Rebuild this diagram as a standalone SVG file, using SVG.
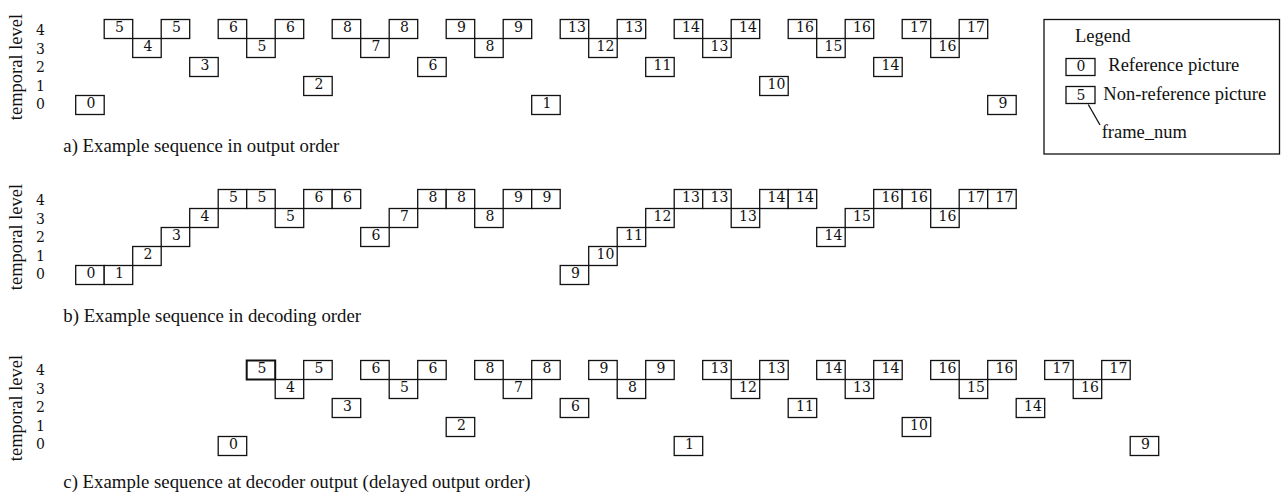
<svg xmlns="http://www.w3.org/2000/svg" width="1287" height="496" viewBox="0 0 1287 496">
<style>
.b{fill:#fff;stroke:#111;stroke-width:1.3}
.n{font-family:"DejaVu Serif","Liberation Serif",serif;font-size:14px;fill:#111;text-anchor:middle}
.t{font-family:"Liberation Serif","DejaVu Serif",serif;font-size:18.5px;fill:#111}
.cap{font-family:"Liberation Serif","DejaVu Serif",serif;font-size:18.8px;fill:#111}
.ax{font-family:"DejaVu Serif","Liberation Serif",serif;font-size:14px;fill:#111;text-anchor:middle}
.lab{font-family:"Liberation Serif","DejaVu Serif",serif;font-size:18.5px;fill:#111;text-anchor:middle}
</style>
<rect width="1287" height="496" fill="#fff"/>

<!-- axis labels -->
<g id="axis-a">
<text class="lab" transform="translate(22,67) rotate(-90)">temporal level</text>
<text class="ax" x="40.5" y="35">4</text><text class="ax" x="40.5" y="53.6">3</text><text class="ax" x="40.5" y="72.2">2</text><text class="ax" x="40.5" y="90.8">1</text><text class="ax" x="40.5" y="109.4">0</text>
</g>
<g id="axis-b">
<text class="lab" transform="translate(22,237) rotate(-90)">temporal level</text>
<text class="ax" x="40.5" y="205">4</text><text class="ax" x="40.5" y="223.6">3</text><text class="ax" x="40.5" y="242.2">2</text><text class="ax" x="40.5" y="260.8">1</text><text class="ax" x="40.5" y="279.4">0</text>
</g>
<g id="axis-c">
<text class="lab" transform="translate(22,408) rotate(-90)">temporal level</text>
<text class="ax" x="40.5" y="375">4</text><text class="ax" x="40.5" y="393.6">3</text><text class="ax" x="40.5" y="412.2">2</text><text class="ax" x="40.5" y="430.8">1</text><text class="ax" x="40.5" y="449.4">0</text>
</g>

<!-- section a: output order -->
<g id="sec-a">
<g id="a0"><rect class="b" x="75.7" y="95.5" width="28.5" height="19"/><text class="n" x="90.95" y="108">0</text></g>
<g id="a1"><rect class="b" x="104.2" y="19.5" width="28.5" height="19"/><text class="n" x="119.45" y="32">5</text></g>
<g id="a2"><rect class="b" x="132.7" y="38.5" width="28.5" height="19"/><text class="n" x="147.95" y="51">4</text></g>
<g id="a3"><rect class="b" x="161.2" y="19.5" width="28.5" height="19"/><text class="n" x="176.45" y="32">5</text></g>
<g id="a4"><rect class="b" x="189.7" y="57.5" width="28.5" height="19"/><text class="n" x="204.95" y="70">3</text></g>
<g id="a5"><rect class="b" x="218.2" y="19.5" width="28.5" height="19"/><text class="n" x="233.45" y="32">6</text></g>
<g id="a6"><rect class="b" x="246.7" y="38.5" width="28.5" height="19"/><text class="n" x="261.95" y="51">5</text></g>
<g id="a7"><rect class="b" x="275.2" y="19.5" width="28.5" height="19"/><text class="n" x="290.45" y="32">6</text></g>
<g id="a8"><rect class="b" x="303.7" y="76.5" width="28.5" height="19"/><text class="n" x="318.95" y="89">2</text></g>
<g id="a9"><rect class="b" x="332.2" y="19.5" width="28.5" height="19"/><text class="n" x="347.45" y="32">8</text></g>
<g id="a10"><rect class="b" x="360.7" y="38.5" width="28.5" height="19"/><text class="n" x="375.95" y="51">7</text></g>
<g id="a11"><rect class="b" x="389.2" y="19.5" width="28.5" height="19"/><text class="n" x="404.45" y="32">8</text></g>
<g id="a12"><rect class="b" x="417.7" y="57.5" width="28.5" height="19"/><text class="n" x="432.95" y="70">6</text></g>
<g id="a13"><rect class="b" x="446.2" y="19.5" width="28.5" height="19"/><text class="n" x="461.45" y="32">9</text></g>
<g id="a14"><rect class="b" x="474.7" y="38.5" width="28.5" height="19"/><text class="n" x="489.95" y="51">8</text></g>
<g id="a15"><rect class="b" x="503.2" y="19.5" width="28.5" height="19"/><text class="n" x="518.45" y="32">9</text></g>
<g id="a16"><rect class="b" x="531.7" y="95.5" width="28.5" height="19"/><text class="n" x="546.95" y="108">1</text></g>
<g id="a17"><rect class="b" x="560.2" y="19.5" width="28.5" height="19"/><text class="n" x="576.95" y="32">13</text></g>
<g id="a18"><rect class="b" x="588.7" y="38.5" width="28.5" height="19"/><text class="n" x="605.45" y="51">12</text></g>
<g id="a19"><rect class="b" x="617.2" y="19.5" width="28.5" height="19"/><text class="n" x="633.95" y="32">13</text></g>
<g id="a20"><rect class="b" x="645.7" y="57.5" width="28.5" height="19"/><text class="n" x="662.45" y="70">11</text></g>
<g id="a21"><rect class="b" x="674.2" y="19.5" width="28.5" height="19"/><text class="n" x="690.95" y="32">14</text></g>
<g id="a22"><rect class="b" x="702.7" y="38.5" width="28.5" height="19"/><text class="n" x="719.45" y="51">13</text></g>
<g id="a23"><rect class="b" x="731.2" y="19.5" width="28.5" height="19"/><text class="n" x="747.95" y="32">14</text></g>
<g id="a24"><rect class="b" x="759.7" y="76.5" width="28.5" height="19"/><text class="n" x="776.45" y="89">10</text></g>
<g id="a25"><rect class="b" x="788.2" y="19.5" width="28.5" height="19"/><text class="n" x="804.95" y="32">16</text></g>
<g id="a26"><rect class="b" x="816.7" y="38.5" width="28.5" height="19"/><text class="n" x="833.45" y="51">15</text></g>
<g id="a27"><rect class="b" x="845.2" y="19.5" width="28.5" height="19"/><text class="n" x="861.95" y="32">16</text></g>
<g id="a28"><rect class="b" x="873.7" y="57.5" width="28.5" height="19"/><text class="n" x="890.45" y="70">14</text></g>
<g id="a29"><rect class="b" x="902.2" y="19.5" width="28.5" height="19"/><text class="n" x="918.95" y="32">17</text></g>
<g id="a30"><rect class="b" x="930.7" y="38.5" width="28.5" height="19"/><text class="n" x="947.45" y="51">16</text></g>
<g id="a31"><rect class="b" x="959.2" y="19.5" width="28.5" height="19"/><text class="n" x="975.95" y="32">17</text></g>
<g id="a32"><rect class="b" x="987.7" y="95.5" width="28.5" height="19"/><text class="n" x="1002.95" y="108">9</text></g>
</g>
<text class="cap" x="63.3" y="151.5">a) Example sequence in output order</text>

<!-- section b: decoding order -->
<g id="sec-b" transform="translate(0,170)">
<g id="b0"><rect class="b" x="75.7" y="95.5" width="28.5" height="19"/><text class="n" x="90.95" y="108">0</text></g>
<g id="b1"><rect class="b" x="104.2" y="95.5" width="28.5" height="19"/><text class="n" x="119.45" y="108">1</text></g>
<g id="b2"><rect class="b" x="132.7" y="76.5" width="28.5" height="19"/><text class="n" x="147.95" y="89">2</text></g>
<g id="b3"><rect class="b" x="161.2" y="57.5" width="28.5" height="19"/><text class="n" x="176.45" y="70">3</text></g>
<g id="b4"><rect class="b" x="189.7" y="38.5" width="28.5" height="19"/><text class="n" x="204.95" y="51">4</text></g>
<g id="b5"><rect class="b" x="218.2" y="19.5" width="28.5" height="19"/><text class="n" x="233.45" y="32">5</text></g>
<g id="b6"><rect class="b" x="246.7" y="19.5" width="28.5" height="19"/><text class="n" x="261.95" y="32">5</text></g>
<g id="b7"><rect class="b" x="275.2" y="38.5" width="28.5" height="19"/><text class="n" x="290.45" y="51">5</text></g>
<g id="b8"><rect class="b" x="303.7" y="19.5" width="28.5" height="19"/><text class="n" x="318.95" y="32">6</text></g>
<g id="b9"><rect class="b" x="332.2" y="19.5" width="28.5" height="19"/><text class="n" x="347.45" y="32">6</text></g>
<g id="b10"><rect class="b" x="360.7" y="57.5" width="28.5" height="19"/><text class="n" x="375.95" y="70">6</text></g>
<g id="b11"><rect class="b" x="389.2" y="38.5" width="28.5" height="19"/><text class="n" x="404.45" y="51">7</text></g>
<g id="b12"><rect class="b" x="417.7" y="19.5" width="28.5" height="19"/><text class="n" x="432.95" y="32">8</text></g>
<g id="b13"><rect class="b" x="446.2" y="19.5" width="28.5" height="19"/><text class="n" x="461.45" y="32">8</text></g>
<g id="b14"><rect class="b" x="474.7" y="38.5" width="28.5" height="19"/><text class="n" x="489.95" y="51">8</text></g>
<g id="b15"><rect class="b" x="503.2" y="19.5" width="28.5" height="19"/><text class="n" x="518.45" y="32">9</text></g>
<g id="b16"><rect class="b" x="531.7" y="19.5" width="28.5" height="19"/><text class="n" x="546.95" y="32">9</text></g>
<g id="b17"><rect class="b" x="560.2" y="95.5" width="28.5" height="19"/><text class="n" x="575.45" y="108">9</text></g>
<g id="b18"><rect class="b" x="588.7" y="76.5" width="28.5" height="19"/><text class="n" x="605.45" y="89">10</text></g>
<g id="b19"><rect class="b" x="617.2" y="57.5" width="28.5" height="19"/><text class="n" x="633.95" y="70">11</text></g>
<g id="b20"><rect class="b" x="645.7" y="38.5" width="28.5" height="19"/><text class="n" x="662.45" y="51">12</text></g>
<g id="b21"><rect class="b" x="674.2" y="19.5" width="28.5" height="19"/><text class="n" x="690.95" y="32">13</text></g>
<g id="b22"><rect class="b" x="702.7" y="19.5" width="28.5" height="19"/><text class="n" x="719.45" y="32">13</text></g>
<g id="b23"><rect class="b" x="731.2" y="38.5" width="28.5" height="19"/><text class="n" x="747.95" y="51">13</text></g>
<g id="b24"><rect class="b" x="759.7" y="19.5" width="28.5" height="19"/><text class="n" x="776.45" y="32">14</text></g>
<g id="b25"><rect class="b" x="788.2" y="19.5" width="28.5" height="19"/><text class="n" x="804.95" y="32">14</text></g>
<g id="b26"><rect class="b" x="816.7" y="57.5" width="28.5" height="19"/><text class="n" x="833.45" y="70">14</text></g>
<g id="b27"><rect class="b" x="845.2" y="38.5" width="28.5" height="19"/><text class="n" x="861.95" y="51">15</text></g>
<g id="b28"><rect class="b" x="873.7" y="19.5" width="28.5" height="19"/><text class="n" x="890.45" y="32">16</text></g>
<g id="b29"><rect class="b" x="902.2" y="19.5" width="28.5" height="19"/><text class="n" x="918.95" y="32">16</text></g>
<g id="b30"><rect class="b" x="930.7" y="38.5" width="28.5" height="19"/><text class="n" x="947.45" y="51">16</text></g>
<g id="b31"><rect class="b" x="959.2" y="19.5" width="28.5" height="19"/><text class="n" x="975.95" y="32">17</text></g>
<g id="b32"><rect class="b" x="987.7" y="19.5" width="28.5" height="19"/><text class="n" x="1004.45" y="32">17</text></g>
</g>
<text class="cap" x="63.3" y="321.5">b) Example sequence in decoding order</text>

<!-- section c: delayed output order -->
<g id="sec-c" transform="translate(142.5,341)">
<g id="c0"><rect class="b" x="75.7" y="95.5" width="28.5" height="19"/><text class="n" x="90.95" y="108">0</text></g>
<g id="c1"><rect class="b" x="104.2" y="19.5" width="28.5" height="19" style="stroke-width:2"/><text class="n" x="119.45" y="32">5</text></g>
<g id="c2"><rect class="b" x="132.7" y="38.5" width="28.5" height="19"/><text class="n" x="147.95" y="51">4</text></g>
<g id="c3"><rect class="b" x="161.2" y="19.5" width="28.5" height="19"/><text class="n" x="176.45" y="32">5</text></g>
<g id="c4"><rect class="b" x="189.7" y="57.5" width="28.5" height="19"/><text class="n" x="204.95" y="70">3</text></g>
<g id="c5"><rect class="b" x="218.2" y="19.5" width="28.5" height="19"/><text class="n" x="233.45" y="32">6</text></g>
<g id="c6"><rect class="b" x="246.7" y="38.5" width="28.5" height="19"/><text class="n" x="261.95" y="51">5</text></g>
<g id="c7"><rect class="b" x="275.2" y="19.5" width="28.5" height="19"/><text class="n" x="290.45" y="32">6</text></g>
<g id="c8"><rect class="b" x="303.7" y="76.5" width="28.5" height="19"/><text class="n" x="318.95" y="89">2</text></g>
<g id="c9"><rect class="b" x="332.2" y="19.5" width="28.5" height="19"/><text class="n" x="347.45" y="32">8</text></g>
<g id="c10"><rect class="b" x="360.7" y="38.5" width="28.5" height="19"/><text class="n" x="375.95" y="51">7</text></g>
<g id="c11"><rect class="b" x="389.2" y="19.5" width="28.5" height="19"/><text class="n" x="404.45" y="32">8</text></g>
<g id="c12"><rect class="b" x="417.7" y="57.5" width="28.5" height="19"/><text class="n" x="432.95" y="70">6</text></g>
<g id="c13"><rect class="b" x="446.2" y="19.5" width="28.5" height="19"/><text class="n" x="461.45" y="32">9</text></g>
<g id="c14"><rect class="b" x="474.7" y="38.5" width="28.5" height="19"/><text class="n" x="489.95" y="51">8</text></g>
<g id="c15"><rect class="b" x="503.2" y="19.5" width="28.5" height="19"/><text class="n" x="518.45" y="32">9</text></g>
<g id="c16"><rect class="b" x="531.7" y="95.5" width="28.5" height="19"/><text class="n" x="546.95" y="108">1</text></g>
<g id="c17"><rect class="b" x="560.2" y="19.5" width="28.5" height="19"/><text class="n" x="576.95" y="32">13</text></g>
<g id="c18"><rect class="b" x="588.7" y="38.5" width="28.5" height="19"/><text class="n" x="605.45" y="51">12</text></g>
<g id="c19"><rect class="b" x="617.2" y="19.5" width="28.5" height="19"/><text class="n" x="633.95" y="32">13</text></g>
<g id="c20"><rect class="b" x="645.7" y="57.5" width="28.5" height="19"/><text class="n" x="662.45" y="70">11</text></g>
<g id="c21"><rect class="b" x="674.2" y="19.5" width="28.5" height="19"/><text class="n" x="690.95" y="32">14</text></g>
<g id="c22"><rect class="b" x="702.7" y="38.5" width="28.5" height="19"/><text class="n" x="719.45" y="51">13</text></g>
<g id="c23"><rect class="b" x="731.2" y="19.5" width="28.5" height="19"/><text class="n" x="747.95" y="32">14</text></g>
<g id="c24"><rect class="b" x="759.7" y="76.5" width="28.5" height="19"/><text class="n" x="776.45" y="89">10</text></g>
<g id="c25"><rect class="b" x="788.2" y="19.5" width="28.5" height="19"/><text class="n" x="804.95" y="32">16</text></g>
<g id="c26"><rect class="b" x="816.7" y="38.5" width="28.5" height="19"/><text class="n" x="833.45" y="51">15</text></g>
<g id="c27"><rect class="b" x="845.2" y="19.5" width="28.5" height="19"/><text class="n" x="861.95" y="32">16</text></g>
<g id="c28"><rect class="b" x="873.7" y="57.5" width="28.5" height="19"/><text class="n" x="890.45" y="70">14</text></g>
<g id="c29"><rect class="b" x="902.2" y="19.5" width="28.5" height="19"/><text class="n" x="918.95" y="32">17</text></g>
<g id="c30"><rect class="b" x="930.7" y="38.5" width="28.5" height="19"/><text class="n" x="947.45" y="51">16</text></g>
<g id="c31"><rect class="b" x="959.2" y="19.5" width="28.5" height="19"/><text class="n" x="975.95" y="32">17</text></g>
<g id="c32"><rect class="b" x="987.7" y="95.5" width="28.5" height="19"/><text class="n" x="1002.95" y="108">9</text></g>
</g>
<text class="cap" x="63.3" y="488">c) Example sequence at decoder output (delayed output order)</text>

<!-- legend -->
<g id="legend">
<rect class="b" x="1044" y="19.5" width="235.5" height="134.5"/>
<text class="t" x="1075" y="41.5">Legend</text>
<g id="legend-ref"><rect class="b" x="1066" y="58.5" width="29" height="17"/><text class="n" x="1081" y="71">0</text><text class="t" x="1108.3" y="71">Reference picture</text></g>
<g id="legend-nonref"><rect class="b" x="1066" y="86.5" width="29" height="17"/><text class="n" x="1081" y="99.5">5</text><text class="t" x="1103.3" y="99.5">Non-reference picture</text></g>
<g id="legend-pointer"><line x1="1088.3" y1="104.5" x2="1100" y2="125" stroke="#111" stroke-width="1.3"/><text class="t" x="1101.7" y="137.5">frame_num</text></g>
</g>
</svg>
